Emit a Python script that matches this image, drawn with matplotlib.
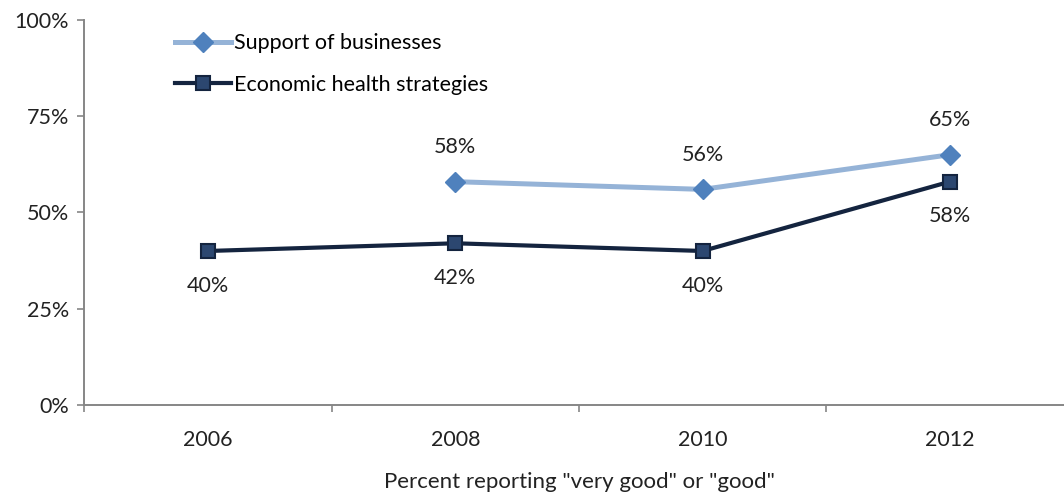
import numpy as np
import matplotlib.pyplot as plt
from matplotlib.ticker import FixedLocator

plt.rcParams['font.family'] = ['Lato', 'DejaVu Sans']

years = ['2006', '2008', '2010', '2012']
support = [np.nan, 58, 56, 65]
economic = [40, 42, 40, 58]
yticks = [0, 25, 50, 75, 100]

fs = 15.5
txt = '#222222'

fig = plt.figure(figsize=(10.64, 4.93), dpi=100)
ax = fig.add_axes([0.0794, 0.1785, 0.9295, 0.781])

x = np.arange(len(years))

ax.plot(x, support, color='#95B3D7', lw=3.6, marker='D', ms=10.5,
        mfc='#4F81BD', mec='#4F81BD', label='Support of businesses', zorder=3)
ax.plot(x, economic, color='#14243F', lw=3.0, marker='s', ms=10,
        mfc='#2C4770', mec='#14243F', mew=1.5, label='Economic health strategies', zorder=3)

# value labels: support above, economic below
for xi, v in zip(x, support):
    if not np.isnan(v):
        ax.annotate(f'{v:.0f}%', (xi, v), xytext=(0, 25), textcoords='offset points',
                    ha='center', va='center', fontsize=fs, color=txt)
for xi, v in zip(x, economic):
    ax.annotate(f'{v:.0f}%', (xi, v), xytext=(0, -25), textcoords='offset points',
                ha='center', va='center', fontsize=fs, color=txt)

ax.set_xlim(-0.5, len(years) - 0.5)
ax.set_ylim(0, 100)
ax.set_yticks(yticks)
ax.set_yticklabels([f'{t}%' for t in yticks], fontsize=fs, color=txt)
ax.set_xticks(x)
ax.set_xticklabels(years, fontsize=fs, color=txt)
ax.xaxis.set_minor_locator(FixedLocator(np.arange(-0.5, len(years), 1)))
ax.tick_params(axis='x', which='major', length=0, pad=18)
ax.tick_params(axis='x', which='minor', length=5, direction='out', color='#868686', width=1.2)
ax.tick_params(axis='y', length=5, direction='out', color='#868686', width=1.2, pad=6)

for s in ['top', 'right']:
    ax.spines[s].set_visible(False)
for s in ['left', 'bottom']:
    ax.spines[s].set_color('#868686')
    ax.spines[s].set_linewidth(1.4)

ax.set_xlabel('Percent reporting "very good" or "good"', fontsize=16, color=txt, labelpad=16)

ax.legend(loc='upper left', bbox_to_anchor=(0.083, 0.988), frameon=False, fontsize=fs,
          handlelength=2.6, handletextpad=0.15, labelspacing=1.0, borderaxespad=0)

fig.savefig('out.png', dpi=100)
